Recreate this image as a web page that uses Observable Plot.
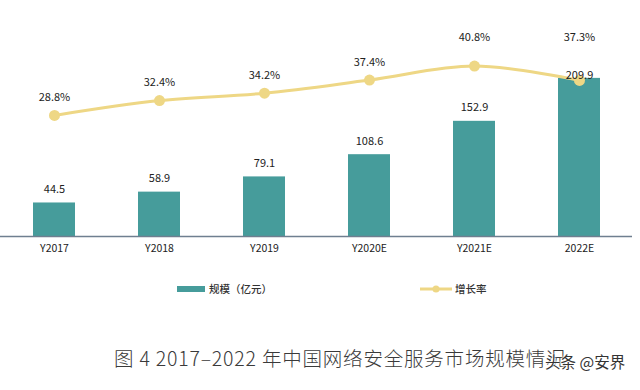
<!DOCTYPE html>
<html>
<head>
<meta charset="utf-8">
<script src="https://cdn.jsdelivr.net/npm/d3@7"></script>
<script src="https://cdn.jsdelivr.net/npm/@observablehq/plot@0.6"></script>
<style>
  html, body { margin: 0; padding: 0; background: #fff; }
  body { width: 640px; height: 390px; overflow: hidden; position: relative;
         font-family: "Noto Sans CJK SC", "Noto Sans", sans-serif; }
  #chart { position: absolute; left: 0; top: 0; }
  #legend { position: absolute; left: 0; top: 278px; width: 640px; height: 22px; }
  #caption { position: absolute; left: 114px; top: 343px; font-size: 19.5px; color: #3a3a3a;
             font-weight: 300; white-space: nowrap; letter-spacing: 0.8px; }
  #mark { position: absolute; left: 545px; top: 350px; font-size: 15.5px; color: #333;
          white-space: nowrap; text-shadow: 0 0 2px #fff, 0 0 2px #fff, 0 0 3px #fff; }
</style>
</head>
<body>
<div id="chart"></div>
<div id="legend"></div>
<div id="caption">图 4 2017–2022 年中国网络安全服务市场规模情况</div>
<div id="mark">头条 @安界</div>
<script>
const years = ["Y2017", "Y2018", "Y2019", "Y2020E", "Y2021E", "2022E"];
const scale = [44.5, 58.9, 79.1, 108.6, 152.9, 209.9];       // 规模（亿元）
const growth = [28.8, 32.4, 34.2, 37.4, 40.8, 37.3];          // 增长率 (%)
const seriesNames = ["规模（亿元）", "增长率"];

const barColor = "#469c9b";
const lineColor = "#eed785";

// secondary (rate) axis expressed in primary units
const rateToY = p => p * 5.46 + 3.5;

const data = years.map((y, i) => {
  const ry = rateToY(growth[i]);
  const by = Math.min(scale[i] + 18, 214);
  const ly = ry + 23.5;
  return {
    year: y,
    value: scale[i],
    rate: growth[i],
    rateY: ry,
    // labels near the top, or colliding with the bar label, move to the top row
    rateLabelY: (ly > 240 || Math.abs(ly - by) < 20) ? 264 : ly,
    labelY: by
  };
});

const chart = Plot.plot({
  width: 640,
  height: 262,
  marginTop: 10,
  marginBottom: 26,
  marginLeft: 0,
  marginRight: 8,
  style: { fontFamily: "'Noto Sans CJK SC', 'Noto Sans', sans-serif", background: "#fff" },
  x: { domain: years, paddingInner: 0.6, paddingOuter: 0.29, label: null },
  y: { domain: [0, 300], axis: null },
  marks: [
    Plot.barY(data, { x: "year", y: "value", fill: barColor }),
    Plot.ruleY([0], { stroke: "#6f7f90", strokeWidth: 1.5 }),
    Plot.line(data, { x: "year", y: "rateY", stroke: lineColor, strokeWidth: 3,
      curve: "catmull-rom" }),
    Plot.dot(data, { x: "year", y: "rateY", r: 5.5, fill: lineColor, stroke: "none" }),
    Plot.text(data, { x: "year", y: "labelY", text: d => d.value.toFixed(1),
      fontSize: 11, fill: "#222" }),
    Plot.text(data, { x: "year", y: "rateLabelY", text: d => d.rate.toFixed(1) + "%",
      fontSize: 11, fill: "#222" }),
    Plot.axisX({ tickSize: 0, tickPadding: 8, fontSize: 10.5, fill: "#222" })
  ]
});
document.getElementById("chart").appendChild(chart);

// legend
const lg = d3.select("#legend").append("svg").attr("width", 640).attr("height", 22);
lg.append("rect").attr("x", 177).attr("y", 8).attr("width", 28).attr("height", 6).attr("fill", barColor);
lg.append("text").attr("x", 209).attr("y", 11).attr("dy", "0.35em")
  .attr("font-size", 10.5).attr("fill", "#333").attr("font-weight", 500).text(seriesNames[0]);
lg.append("line").attr("x1", 420).attr("x2", 452).attr("y1", 11).attr("y2", 11)
  .attr("stroke", lineColor).attr("stroke-width", 3);
lg.append("circle").attr("cx", 436).attr("cy", 11).attr("r", 3.5).attr("fill", lineColor);
lg.append("text").attr("x", 455).attr("y", 11).attr("dy", "0.35em")
  .attr("font-size", 10.5).attr("fill", "#333").attr("font-weight", 500).text(seriesNames[1]);
</script>
</body>
</html>
